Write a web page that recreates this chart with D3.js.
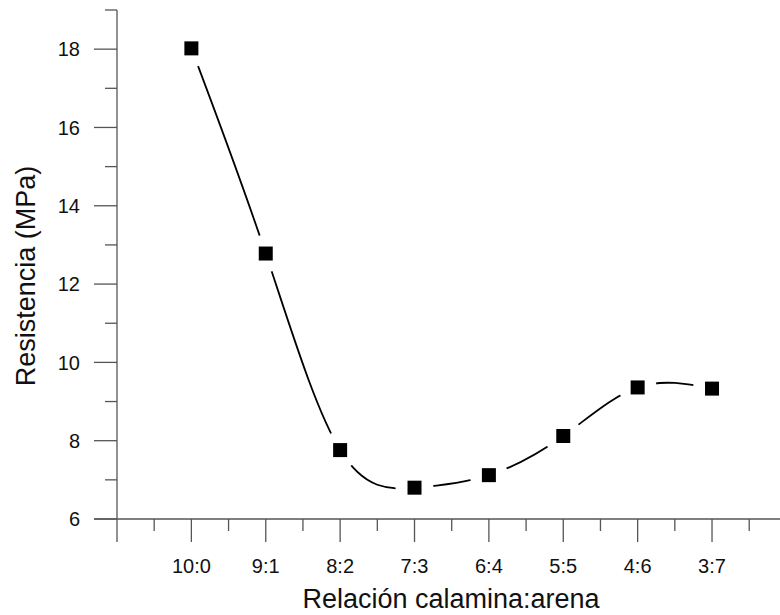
<!DOCTYPE html>
<html><head><meta charset="utf-8">
<script src="https://cdn.jsdelivr.net/npm/d3@7"></script>
<style>body{margin:0;background:#fff}svg{display:block}text{font-family:"Liberation Sans",Arial,sans-serif;fill:#111}</style>
</head><body>
<script>
const categories = ["10:0","9:1","8:2","7:3","6:4","5:5","4:6","3:7"];
const values = [18.02, 12.78, 7.76, 6.80, 7.12, 8.12, 9.36, 9.33];
const yMajorTicks = [6, 8, 10, 12, 14, 16, 18];
const yMinorTicks = [7, 9, 11, 13, 15, 17, 19];
const xTitle = "Relación calamina:arena";
const yTitle = "Resistencia (MPa)";

const W = 780, H = 615;
const svg = d3.select("body").append("svg").attr("width", W).attr("height", H);

const x = d3.scaleLinear().domain([0, 9]).range([117, 786.4]);
const y = d3.scaleLinear().domain([6, 19]).range([519, 10]);
const axisColor = "#555";

// Data line first (so gaps can be cut with white discs)
const pts = values.map((v, i) => ({ c: categories[i], v, i: i + 1 }));
const line = d3.line().x(d => x(d.i)).y(d => y(d.v)).curve(d3.curveNatural);
svg.append("path").datum(pts).attr("d", line).attr("fill", "none")
  .attr("stroke", "#000").attr("stroke-width", 1.8);
svg.selectAll(".gap").data(pts).join("circle")
  .attr("cx", d => x(d.i)).attr("cy", d => y(d.v)).attr("r", 19).attr("fill", "#fff");

// X axis
const xMajor = d3.range(0, 9);
const xMinor = d3.range(0, 9).map(d => d + 0.5);
const gx = svg.append("g");
gx.append("line").attr("x1", 94).attr("x2", W).attr("y1", y(6)).attr("y2", y(6))
  .attr("stroke", axisColor).attr("stroke-width", 1.3);
gx.selectAll(".xmaj").data(xMajor).join("line")
  .attr("x1", d => x(d)).attr("x2", d => x(d)).attr("y1", y(6)).attr("y2", y(6) + 23)
  .attr("stroke", axisColor).attr("stroke-width", 1.3);
gx.selectAll(".xmin").data(xMinor).join("line")
  .attr("x1", d => x(d)).attr("x2", d => x(d)).attr("y1", y(6)).attr("y2", y(6) + 12)
  .attr("stroke", axisColor).attr("stroke-width", 1.3);
gx.selectAll(".xl").data(categories).join("text")
  .attr("x", (d, i) => x(i + 1)).attr("y", 573)
  .attr("text-anchor", "middle").attr("font-size", 20).text(d => d);

// Y axis
const gy = svg.append("g");
gy.append("line").attr("x1", x(0)).attr("x2", x(0)).attr("y1", y(19)).attr("y2", y(6))
  .attr("stroke", axisColor).attr("stroke-width", 1.3);
gy.selectAll(".ymaj").data(yMajorTicks).join("line")
  .attr("x1", x(0) - 23).attr("x2", x(0)).attr("y1", d => y(d)).attr("y2", d => y(d))
  .attr("stroke", axisColor).attr("stroke-width", 1.3);
gy.selectAll(".ymin").data(yMinorTicks).join("line")
  .attr("x1", x(0) - 12).attr("x2", x(0)).attr("y1", d => y(d)).attr("y2", d => y(d))
  .attr("stroke", axisColor).attr("stroke-width", 1.3);
gy.selectAll(".yl").data(yMajorTicks).join("text")
  .attr("x", 80).attr("y", d => y(d)).attr("dy", "0.36em")
  .attr("text-anchor", "end").attr("font-size", 20).text(d => d);

// Titles
svg.append("text").attr("x", 451).attr("y", 608).attr("text-anchor", "middle")
  .attr("font-size", 27).text(xTitle);
svg.append("text").attr("transform", "translate(35,276) rotate(-90)")
  .attr("text-anchor", "middle").attr("font-size", 27).text(yTitle);

// Markers
const s = 14;
svg.selectAll(".pt").data(pts).join("rect")
  .attr("x", d => x(d.i) - s / 2).attr("y", d => y(d.v) - s / 2)
  .attr("width", s).attr("height", s).attr("fill", "#000");
</script>
</body></html>
